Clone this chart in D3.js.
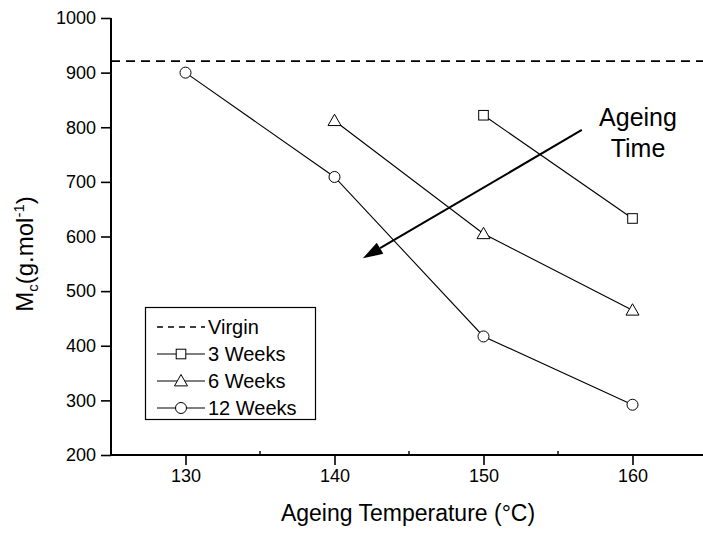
<!DOCTYPE html>
<html><head><meta charset="utf-8">
<script src="https://cdn.jsdelivr.net/npm/d3@7"></script>
<style>body{margin:0;background:#fff}svg{display:block}text{font-family:"Liberation Sans",Arial,sans-serif;fill:#000}</style>
</head><body>
<svg id="c" width="703" height="533"></svg>
<script>
const temps = [130, 140, 150, 160];
const weeks3 = [null, null, 822, 633];
const weeks6 = [null, 812, 605, 465];
const weeks12 = [900, 709, 417, 292];
const virgin = 921;
const xTicks = [130, 140, 150, 160];
const xMinor = [135, 145, 155];
const yTicks = [200, 300, 400, 500, 600, 700, 800, 900, 1000];
const legendLabels = ["Virgin", "3 Weeks", "6 Weeks", "12 Weeks"];
const arrowFrom = [156.6, 795];
const arrowTo = [141.9, 560];

const svg = d3.select("#c");
const x = d3.scaleLinear().domain([125, 165]).range([111, 707]);
const y = d3.scaleLinear().domain([200, 1000]).range([455, 18]);

// virgin dashed line
svg.append("line").attr("x1", x(125)).attr("x2", x(165)).attr("y1", y(virgin)).attr("y2", y(virgin))
  .attr("stroke", "#000").attr("stroke-width", 1.6).attr("stroke-dasharray", "9,6");

const series = [
  {vals: weeks3, sym: "square"},
  {vals: weeks6, sym: "triangle"},
  {vals: weeks12, sym: "circle"}
];
function drawSym(g, type, cx, cy) {
  if (type === "circle") {
    g.append("circle").attr("cx", cx).attr("cy", cy).attr("r", 5.5).attr("fill", "#fff").attr("stroke", "#000").attr("stroke-width", 1);
  } else if (type === "square") {
    g.append("rect").attr("x", cx - 4.8).attr("y", cy - 4.8).attr("width", 9.6).attr("height", 9.6).attr("fill", "#fff").attr("stroke", "#000").attr("stroke-width", 1);
  } else {
    const s = 6.5;
    g.append("path").attr("d", `M${cx},${cy - s}L${cx + s},${cy + s * 0.75}L${cx - s},${cy + s * 0.75}Z`).attr("fill", "#fff").attr("stroke", "#000").attr("stroke-width", 1);
  }
}
const line = d3.line().defined(d => d[1] != null).x(d => x(d[0])).y(d => y(d[1]));
series.forEach(s => {
  const pts = temps.map((t, i) => [t, s.vals[i]]);
  svg.append("path").attr("d", line(pts)).attr("fill", "none").attr("stroke", "#000").attr("stroke-width", 1.1);
});
series.forEach(s => {
  const g = svg.append("g");
  temps.forEach((t, i) => { if (s.vals[i] != null) drawSym(g, s.sym, x(t), y(s.vals[i])); });
});

// axes
const xAxis = d3.axisBottom(x).tickValues(xTicks).tickSize(10).tickPadding(4).tickFormat(d3.format("d"));
const gx = svg.append("g").attr("transform", "translate(0,455)").call(xAxis);
gx.select(".domain").attr("stroke-width", 2).attr("d", `M${x(125)},0H${x(165)}`);
gx.selectAll(".tick line").attr("stroke-width", 1.6);
gx.selectAll("text").attr("font-size", 18).attr("font-family", "Liberation Sans, Arial, sans-serif");
svg.append("g").selectAll("line").data(xMinor).join("line")
  .attr("x1", d => x(d)).attr("x2", d => x(d)).attr("y1", 455).attr("y2", 451)
  .attr("stroke", "#000").attr("stroke-width", 1.4);

const yAxis = d3.axisLeft(y).tickValues(yTicks).tickSize(10).tickPadding(5).tickFormat(d3.format("d"));
const gy = svg.append("g").attr("transform", "translate(111,0)").call(yAxis);
gy.select(".domain").attr("stroke-width", 2).attr("d", `M0,${y(200)}V${y(1000)}`);
gy.selectAll(".tick line").attr("stroke-width", 1.6);
gy.selectAll("text").attr("font-size", 18).attr("font-family", "Liberation Sans, Arial, sans-serif");

// axis titles
svg.append("text").attr("x", 408).attr("y", 521).attr("text-anchor", "middle").attr("font-size", 23)
  .text("Ageing Temperature (°C)");
const yt = svg.append("text").attr("transform", "translate(33,254) rotate(-90)").attr("text-anchor", "middle").attr("font-size", 24);
yt.append("tspan").text("M");
yt.append("tspan").attr("font-size", 15).attr("dy", 5).text("c");
yt.append("tspan").attr("dy", -5).text("(g.mol");
yt.append("tspan").attr("font-size", 15).attr("dy", -9).text("-1");
yt.append("tspan").attr("dy", 9).text(")");

// arrow
const ax1 = x(arrowFrom[0]), ay1 = y(arrowFrom[1]), ax2 = x(arrowTo[0]), ay2 = y(arrowTo[1]);
const ang = Math.atan2(ay2 - ay1, ax2 - ax1);
const hl = 20, hw = 6.5;
const bx = ax2 - hl * Math.cos(ang), by = ay2 - hl * Math.sin(ang);
svg.append("line").attr("x1", ax1).attr("y1", ay1).attr("x2", bx).attr("y2", by).attr("stroke", "#000").attr("stroke-width", 2);
svg.append("path").attr("d", `M${ax2},${ay2}L${bx + hw * Math.sin(ang)},${by - hw * Math.cos(ang)}L${bx - hw * Math.sin(ang)},${by + hw * Math.cos(ang)}Z`).attr("fill", "#000");
svg.append("text").attr("x", 638).attr("y", 126).attr("text-anchor", "middle").attr("font-size", 25).text("Ageing");
svg.append("text").attr("x", 638).attr("y", 157).attr("text-anchor", "middle").attr("font-size", 25).text("Time");

// legend
const lg = svg.append("g");
lg.append("rect").attr("x", 145.5).attr("y", 307.5).attr("width", 170).attr("height", 112).attr("fill", "#fff").attr("stroke", "#000").attr("stroke-width", 1.2);
const legSyms = [null, "square", "triangle", "circle"];
legendLabels.forEach((lab, i) => {
  const cy = 327 + i * 27;
  const l = lg.append("line").attr("x1", 157).attr("x2", 205).attr("y1", cy).attr("y2", cy).attr("stroke", "#000");
  if (i === 0) l.attr("stroke-width", 1.4).attr("stroke-dasharray", "6,5");
  else { l.attr("stroke-width", 1.1); drawSym(lg, legSyms[i], 181, cy); }
  lg.append("text").attr("x", 208).attr("y", cy + 7).attr("font-size", 20).text(lab);
});
</script>
</body></html>
